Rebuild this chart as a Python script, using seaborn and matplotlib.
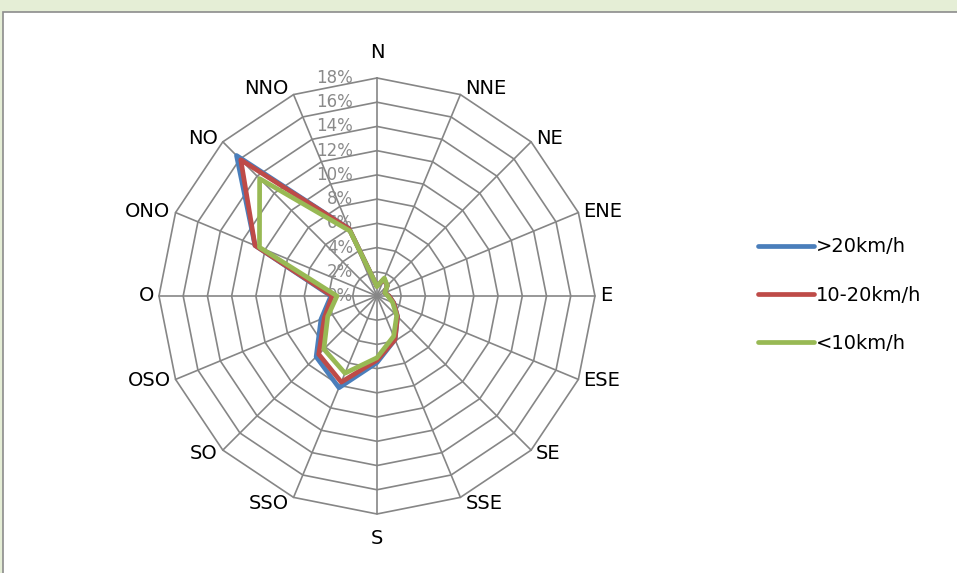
import numpy as np
import pandas as pd
import matplotlib
matplotlib.use("Agg")
import matplotlib.pyplot as plt
from matplotlib.patches import Rectangle
import seaborn as sns

# Rosa de los vientos (%)
direcciones = ["N", "NNE", "NE", "ENE", "E", "ESE", "SE", "SSE",
               "S", "SSO", "SO", "OSO", "O", "ONO", "NO", "NNO"]
mas_20 = [0.8, 1.5, 1.2, 0.7, 1.0, 1.5, 2.4, 3.9, 5.5, 8.2, 7.1, 5.0, 3.8, 10.9, 16.4, 6.0]
de_10_20 = [0.8, 1.5, 1.2, 0.7, 1.0, 1.5, 2.4, 3.9, 5.3, 7.7, 6.8, 4.7, 3.7, 10.9, 15.9, 6.0]
menos_10 = [0.8, 1.6, 1.2, 0.7, 0.9, 1.4, 2.3, 3.6, 5.1, 6.9, 6.2, 4.4, 3.3, 10.5, 13.7, 5.8]
series = [">20km/h", "10-20km/h", "<10km/h"]
niveles = [0, 2, 4, 6, 8, 10, 12, 14, 16, 18]

colores = {">20km/h": "#4a7ebb", "10-20km/h": "#be4b48", "<10km/h": "#98b954"}
gris = "#868686"

sns.set_theme(style="white")
plt.rcParams["font.family"] = ["DejaVu Sans"]

theta = np.deg2rad(np.arange(len(direcciones)) * 22.5)
theta_c = np.append(theta, 2 * np.pi)

filas = []
for nombre, vals in zip(series, [mas_20, de_10_20, menos_10]):
    vals_c = vals + [vals[0]]
    for t, v in zip(theta_c, vals_c):
        filas.append({"theta": t, "valor": v, "velocidad": nombre})
df = pd.DataFrame(filas)

fig = plt.figure(figsize=(9.57, 5.73), dpi=100, facecolor="#e5eed6")
fig.patches.append(Rectangle((3 / 957, -0.05), 1.1, (573 - 12) / 573 + 0.05,
                             transform=fig.transFigure, facecolor="white",
                             edgecolor="#8c8c8c", lw=1.2, zorder=-5))

ax = fig.add_axes([0.1661, 0.1030, 0.4556, 0.7609], projection="polar")
ax.patch.set_alpha(0)
ax.set_theta_zero_location("N")
ax.set_theta_direction(-1)

sns.lineplot(data=df, x="theta", y="valor", hue="velocidad", hue_order=series,
             palette=colores, sort=False, estimator=None, lw=3.4, ax=ax,
             legend=False, solid_joinstyle="round", solid_capstyle="round",
             zorder=5)
handles = ax.lines[:3]

# rejilla poligonal
for v in niveles[1:]:
    ax.plot(theta_c, [v] * len(theta_c), color=gris, lw=1.2, zorder=1, clip_on=False)
for t in theta:
    ax.plot([t, t], [0, 18], color=gris, lw=1.2, zorder=1, clip_on=False)

ax.set_ylim(0, 18)
ax.grid(False)
ax.spines["polar"].set_visible(False)
ax.set_xticks([])
ax.set_yticks([])
ax.set_xlabel("")
ax.set_ylabel("")

# etiquetas de direccion (junto al vertice exterior)
for t, lab in zip(theta, direcciones):
    s, c = np.sin(t), np.cos(t)
    if s > 0.1:
        ha, dx = "left", 5
    elif s < -0.1:
        ha, dx = "right", -5
    else:
        ha, dx = "center", 0
    dy = 7 * c * abs(c) + (18 * np.sign(c) if ha == "center" else 0)
    ax.annotate(lab, xy=(t, 18), xytext=(dx, dy), textcoords="offset pixels",
                ha=ha, va="center", fontsize=14, color="black",
                annotation_clip=False)

# etiquetas radiales
for v in niveles:
    ax.annotate(f"{v}%", xy=(0, v), xytext=(-24, 0), textcoords="offset pixels",
                ha="right", va="center", fontsize=12, color="#8a8a8a", zorder=3)

leg = fig.legend(handles=handles, labels=series, loc="center left",
                 bbox_to_anchor=(758 / 957, 1 - 295 / 573), frameon=False,
                 fontsize=14, handlelength=2.9, handletextpad=0.1, labelspacing=1.5,
                 borderpad=0, borderaxespad=0, labelcolor="black")

fig.savefig("out.png", dpi=100, facecolor=fig.get_facecolor())
